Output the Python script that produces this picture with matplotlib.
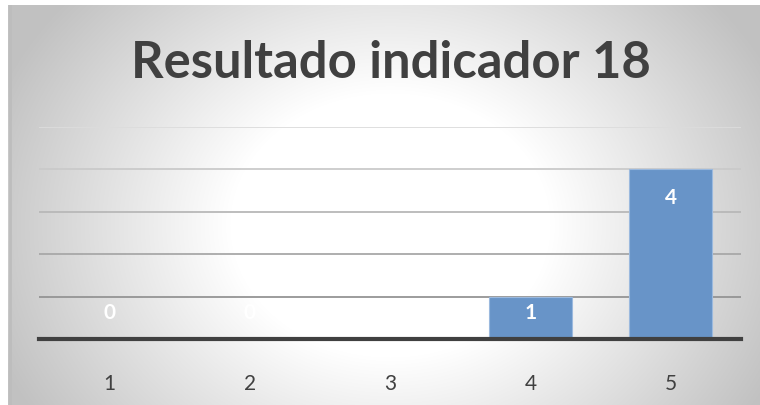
import numpy as np
import matplotlib.pyplot as plt

categories = ["1", "2", "3", "4", "5"]
values = [0, 0, 0, 1, 4]
title = "Resultado indicador 18"

plt.rcParams['font.family'] = ['Lato', 'DejaVu Sans']

W, H = 760, 405
fig = plt.figure(figsize=(W / 100, H / 100), dpi=100)
fig.patch.set_facecolor('white')

# radial grey-to-white background of the chart area
bg = fig.add_axes([8 / W, 0, 1 - 8 / W, 1 - 5 / H])
yy, xx = np.mgrid[0:400, 0:752]
cx, cy = 382, 220
d = np.sqrt(((xx - cx) / 400) ** 2 + ((yy - cy) / 330) ** 2)
shade = 1.0 - 0.22 * np.clip((d - 0.4) / 0.6, 0, 1.1)
bg.imshow(np.dstack([shade] * 3), aspect='auto', extent=[0, 1, 0, 1], origin='upper')
bg.axvline(0.002, color='#bdbdbd', lw=2)
bg.axis('off')

ax = fig.add_axes([39 / W, 1 - 339 / H, 702 / W, 212 / H])
ax.patch.set_alpha(0)
x = np.arange(len(categories))
bars = ax.bar(x, values, width=0.59, color='#6894c8', edgecolor='#9bb9de', linewidth=0.8, zorder=3)

ax.set_xlim(-0.5, len(categories) - 0.5)
ax.set_ylim(0, 5)
# gridlines fade toward the top
grid_colors = ['#949494', '#a8a8a8', '#b8b8b8', '#cacaca', '#dcdcdc']
for yv, c in zip(range(1, 6), grid_colors):
    ax.axhline(yv, color=c, linewidth=1.3, zorder=1)
ax.set_yticks([])
ax.set_xticks(x)
ax.set_xticklabels(categories, fontsize=15, color='#404040')
ax.tick_params(axis='x', length=0, pad=25)
for s in ['top', 'right', 'left']:
    ax.spines[s].set_visible(False)
ax.spines['bottom'].set_color('#404040')
ax.spines['bottom'].set_linewidth(3)
ax.spines['bottom'].set_zorder(4)

for xi, v in zip(x, values):
    ax.text(xi, max(v - 0.67, 0.61), str(v), ha='center', va='center',
            fontsize=15, fontweight='bold', color='white', zorder=5)

fig.text(391 / W, 1 - 63 / H, title, ha='center', va='center', fontsize=36.5,
         fontweight='bold', color='#404040')

fig.savefig('out.png', dpi=100)
